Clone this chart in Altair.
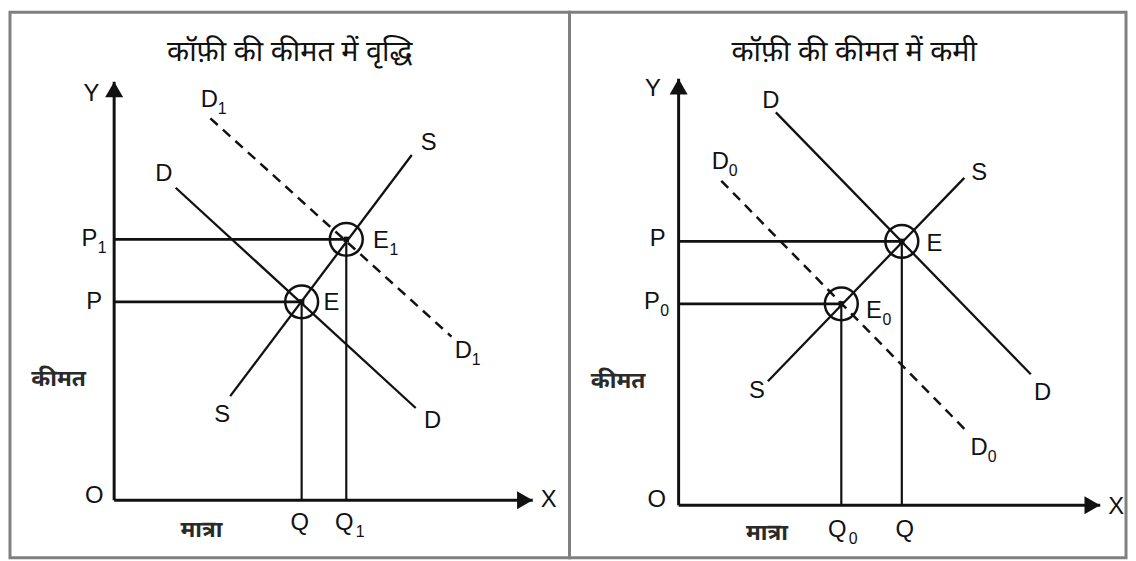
import altair as alt
import pandas as pd

FONT_LATIN = "Liberation Sans"
FONT_HINDI = "Noto Sans Devanagari, Nirmala UI, Mangal, Lohit Devanagari, Noto Sans, sans-serif"
INK = "#111111"

# ---------------- left panel: price rise (demand shifts D -> D1) ----------------
L_TITLE = "कॉफ़ी की कीमत में वृद्धि"
L_TITLE_X, L_TITLE_Y = 4.425, 11.3
L_CURVE = ["S", "D", "D1"]
L_X0 = [2.925, 1.55, 2.425]
L_Y0 = [2.625, 7.875, 9.625]
L_X1 = [7.5, 7.6, 8.5]
L_Y1 = [8.7, 2.325, 4.125]
L_DASHED = [False, False, True]
L_EQ = ["E", "E1"]
L_EQ_Q = [4.725, 5.85]
L_EQ_P = [5.0, 6.575]
L_AXIS_X_END = 10.55
L_AXIS_Y_END = 10.55
L_LAB = ["Y", "X", "O", "D", "D", "P", "P", "S", "E", "E", "S", "D", "D", "Q", "Q"]
L_SUB = ["", "", "", "1", "", "1", "", "", "1", "", "", "", "1", "", "1"]
L_LAB_X = [-0.575, 10.95, -0.5, 2.4, 1.25, -0.625, -0.5, 7.925, 6.725, 5.475, 2.725, 8.025, 8.8, 4.675, 5.8]
L_LAB_Y = [10.225, 0.0, 0.1, 10.075, 8.225, 6.575, 5.0, 9.0, 6.525, 4.975, 2.15, 2.0, 3.75, -0.575, -0.575]
L_HI = ["कीमत", "मात्रा"]
L_HI_X = [-1.4, 2.2]
L_HI_Y = [3.05, -0.75]

# ---------------- right panel: price fall (demand shifts D -> D0) ----------------
R_TITLE = "कॉफ़ी की कीमत में कमी"
R_TITLE_X, R_TITLE_Y = 4.425, 11.425
R_CURVE = ["S", "D", "D0"]
R_X0 = [2.25, 2.45, 1.075]
R_Y0 = [3.125, 9.9, 8.175]
R_X1 = [7.2, 8.875, 7.25]
R_Y1 = [8.25, 3.3, 1.875]
R_DASHED = [False, False, True]
R_EQ = ["E", "E0"]
R_EQ_Q = [5.625, 4.1]
R_EQ_P = [6.65, 5.075]
R_AXIS_X_END = 10.625
R_AXIS_Y_END = 10.75
R_LAB = ["Y", "X", "O", "D", "D", "P", "P", "S", "E", "E", "S", "D", "D", "Q", "Q"]
R_SUB = ["", "", "", "", "0", "", "0", "", "", "0", "", "", "0", "0", ""]
R_LAB_X = [-0.65, 11.025, -0.55, 2.325, 1.05, -0.525, -0.675, 7.575, 6.45, 4.925, 1.975, 9.175, 7.575, 4.0, 5.7]
R_LAB_Y = [10.5, -0.05, 0.125, 10.175, 8.65, 6.7, 5.125, 8.375, 6.575, 4.9, 2.875, 2.825, 1.45, -0.625, -0.625]
R_HI = ["कीमत", "मात्रा"]
R_HI_X = [-1.525, 2.225]
R_HI_Y = [3.125, -0.7]


def panel(title, tx, ty, curve, x0, y0, x1, y1, dashed, eq, eq_q, eq_p,
          ax_x, ax_y, lab, sub, lab_x, lab_y, hi, hi_x, hi_y,
          xdom, ydom, width, height):
    xs = alt.Scale(domain=xdom, nice=False, zero=False)
    ys = alt.Scale(domain=ydom, nice=False, zero=False)

    def X(f):
        return alt.X(f, type="quantitative", scale=xs, axis=None)

    def Y(f):
        return alt.Y(f, type="quantitative", scale=ys, axis=None)

    # curves (two end points each)
    rows = []
    for i, name in enumerate(curve):
        rows.append(dict(name=name, o=0, x=x0[i], y=y0[i], dashed=dashed[i]))
        rows.append(dict(name=name, o=1, x=x1[i], y=y1[i], dashed=dashed[i]))
    cdf = pd.DataFrame(rows)
    solid = alt.Chart(cdf[~cdf.dashed]).mark_line(color=INK, strokeWidth=2.3).encode(
        x=X("x"), y=Y("y"), detail="name:N", order="o:Q")
    dash = alt.Chart(cdf[cdf.dashed]).mark_line(color=INK, strokeWidth=2.5, strokeDash=[10, 7]).encode(
        x=X("x"), y=Y("y"), detail="name:N", order="o:Q")

    # axes
    adf = pd.DataFrame(dict(x=[0, 0], y=[0, 0], x2=[0, ax_x], y2=[ax_y, 0]))
    axes = alt.Chart(adf).mark_rule(color=INK, strokeWidth=3).encode(
        x=X("x"), y=Y("y"), x2="x2:Q", y2="y2:Q")
    up = alt.Chart(pd.DataFrame(dict(x=[0], y=[ax_y]))).mark_point(
        shape="triangle-up", filled=True, size=330, color=INK, opacity=1, yOffset=8).encode(
        x=X("x"), y=Y("y"))
    right = alt.Chart(pd.DataFrame(dict(x=[ax_x], y=[0]))).mark_point(
        shape="triangle-right", filled=True, size=330, color=INK, opacity=1, xOffset=-8).encode(
        x=X("x"), y=Y("y"))

    # guide lines from equilibria to the axes
    edf = pd.DataFrame(dict(name=eq, q=eq_q, p=eq_p, zero=[0.0] * len(eq)))
    hguide = alt.Chart(edf).mark_rule(color=INK, strokeWidth=2.6).encode(
        x=X("zero"), x2="q:Q", y=Y("p"))
    vguide = alt.Chart(edf).mark_rule(color=INK, strokeWidth=2.2).encode(
        x=X("q"), y=Y("zero"), y2="p:Q")
    ring = alt.Chart(edf).mark_point(shape="circle", filled=False, size=1100,
                                     color=INK, strokeWidth=2.5, opacity=1).encode(
        x=X("q"), y=Y("p"))
    dot = alt.Chart(edf).mark_point(shape="square", filled=True, size=30,
                                    color=INK, opacity=1).encode(
        x=X("q"), y=Y("p"))

    # letter labels
    ldf = pd.DataFrame(dict(lab=lab, sub=sub, x=lab_x, y=lab_y))
    letters = alt.Chart(ldf).mark_text(font=FONT_LATIN, fontSize=24, color=INK,
                                       align="center", baseline="middle").encode(
        x=X("x"), y=Y("y"), text="lab:N")
    sdf = ldf[ldf["sub"] != ""]
    subs_q = alt.Chart(sdf[sdf.lab == "Q"]).mark_text(
        font=FONT_LATIN, fontSize=16, color=INK, align="center", baseline="middle",
        dx=16, dy=9).encode(x=X("x"), y=Y("y"), text="sub:N")
    subs_o = alt.Chart(sdf[sdf.lab != "Q"]).mark_text(
        font=FONT_LATIN, fontSize=16, color=INK, align="center", baseline="middle",
        dx=13, dy=9).encode(x=X("x"), y=Y("y"), text="sub:N")

    hdf = pd.DataFrame(dict(t=hi, x=hi_x, y=hi_y))
    hindi = alt.Chart(hdf).mark_text(font=FONT_HINDI, fontSize=23, fontWeight="bold",
                                     color="#2a2a2a", align="center", baseline="middle").encode(
        x=X("x"), y=Y("y"), text="t:N")
    tdf = pd.DataFrame(dict(t=[title], x=[tx], y=[ty]))
    ttl = alt.Chart(tdf).mark_text(font=FONT_HINDI, fontSize=29, color=INK,
                                   align="center", baseline="middle").encode(
        x=X("x"), y=Y("y"), text="t:N")

    return alt.layer(axes, hguide, vguide, solid, dash, ring, dot, up, right,
                     letters, subs_q, subs_o, hindi, ttl).properties(width=width, height=height)


left = panel(L_TITLE, L_TITLE_X, L_TITLE_Y, L_CURVE, L_X0, L_Y0, L_X1, L_Y1, L_DASHED,
             L_EQ, L_EQ_Q, L_EQ_P, L_AXIS_X_END, L_AXIS_Y_END,
             L_LAB, L_SUB, L_LAB_X, L_LAB_Y, L_HI, L_HI_X, L_HI_Y,
             [-2.625, 11.475], [-1.45, 12.3], 564, 550)
right = panel(R_TITLE, R_TITLE_X, R_TITLE_Y, R_CURVE, R_X0, R_Y0, R_X1, R_Y1, R_DASHED,
              R_EQ, R_EQ_Q, R_EQ_P, R_AXIS_X_END, R_AXIS_Y_END,
              R_LAB, R_SUB, R_LAB_X, R_LAB_Y, R_HI, R_HI_X, R_HI_Y,
              [-2.75, 11.275], [-1.325, 12.425], 561, 550)

chart = alt.hconcat(left, right, spacing=0, bounds="flush", padding=0,
                    background="white").configure_view(stroke="#808080", strokeWidth=3)

chart.save("out.html", embed_options={"renderer": "svg", "actions": False})
